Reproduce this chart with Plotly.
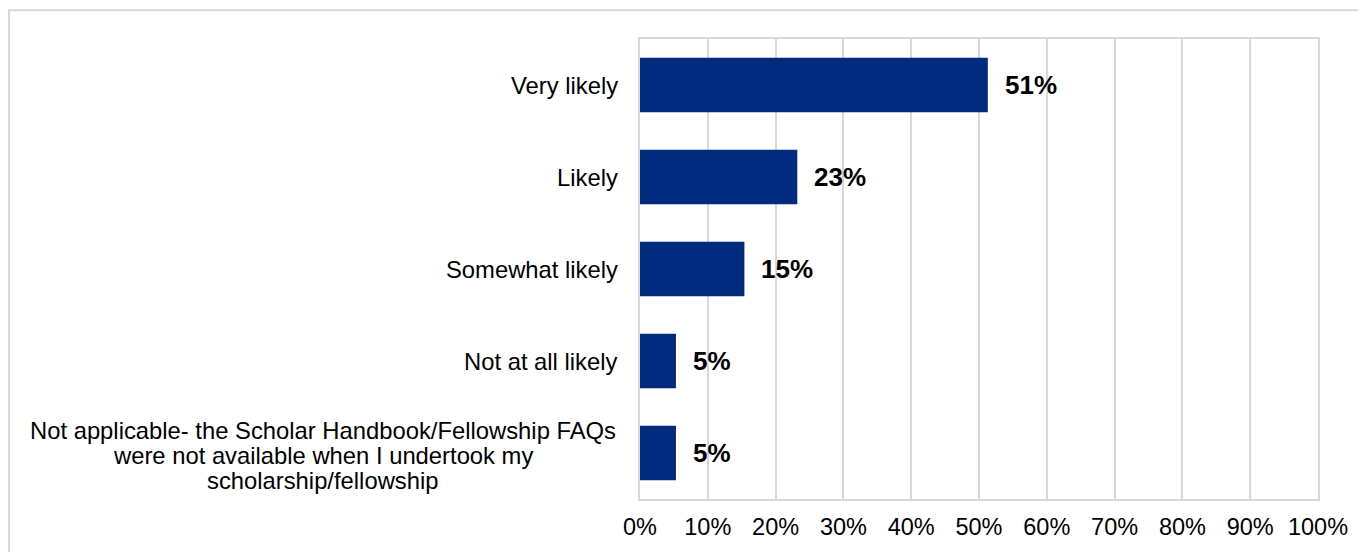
import plotly.graph_objects as go

categories = [
    "Very likely",
    "Likely",
    "Somewhat likely",
    "Not at all likely",
    "Not applicable- the Scholar Handbook/Fellowship FAQs<br>were not available when I undertook my<br>scholarship/fellowship",
]
values = [0.513, 0.232, 0.154, 0.053, 0.053]
tick_vals = [0, 0.1, 0.2, 0.3, 0.4, 0.5, 0.6, 0.7, 0.8, 0.9, 1.0]
tick_text = ["0%", "10%", "20%", "30%", "40%", "50%", "60%", "70%", "80%", "90%", "100%"]

# page has an 8px body margin; figure is sized to fill the rest
W, H = 1358, 544
L, R, T, B = 632, 48, 31, 47
pw, ph = W - L - R, H - T - B
FONT = "Liberation Sans, Arial"

fig = go.Figure(go.Bar(
    x=values, y=categories, orientation="h",
    marker=dict(color="#002A7E", line=dict(width=0)),
    width=0.59, hoverinfo="x+y",
))

# category labels (multi-line ones centred, tight line spacing)
LINE = 25
for c in categories:
    lines = c.split("<br>")
    n = len(lines)
    for i, ln in enumerate(lines):
        fig.add_annotation(
            x=(-20 / pw) if n == 1 else (-317.5 / pw), xref="paper", y=c, yref="y",
            text=ln, showarrow=False, xanchor="right" if n == 1 else "center",
            yanchor="middle",
            yshift=((n - 1) / 2 - i) * LINE - (2 if n > 1 else 0),
            font=dict(family=FONT, size=23.8, color="#000000"),
        )

# data labels
for c, v in zip(categories, values):
    fig.add_annotation(
        x=v, xref="x", y=c, yref="y", text="<b>%d%%</b>" % round(v * 100),
        showarrow=False, xanchor="left", yanchor="middle", xshift=15,
        font=dict(family=FONT, size=26, color="#000000"),
    )

# outer chart border
fig.add_shape(type="rect", xref="paper", yref="paper",
              x0=(1 - L) / pw, x1=(W + 10 - L) / pw,
              y0=(H - B - (H + 10)) / ph, y1=(H - B - 2) / ph,
              line=dict(color="#d9d9d9", width=2), layer="below")

fig.update_layout(
    width=W, height=H,
    margin=dict(l=L, r=R, t=T, b=B),
    paper_bgcolor="white", plot_bgcolor="white",
    showlegend=False,
    bargap=0.41,
    xaxis=dict(range=[0, 1], tickvals=tick_vals, ticktext=tick_text,
               showgrid=True, gridcolor="#d9d9d9", gridwidth=1.5,
               showline=True, linecolor="#d9d9d9", linewidth=2, mirror=True,
               zeroline=False, ticks="", ticklabelstandoff=6,
               tickfont=dict(family=FONT, size=23.5, color="#000000")),
    yaxis=dict(categoryorder="array", categoryarray=categories[::-1],
               showticklabels=False, showgrid=False,
               showline=True, linecolor="#d9d9d9", linewidth=2, mirror=True,
               zeroline=False, ticks=""),
)

fig.write_html("out.html")
